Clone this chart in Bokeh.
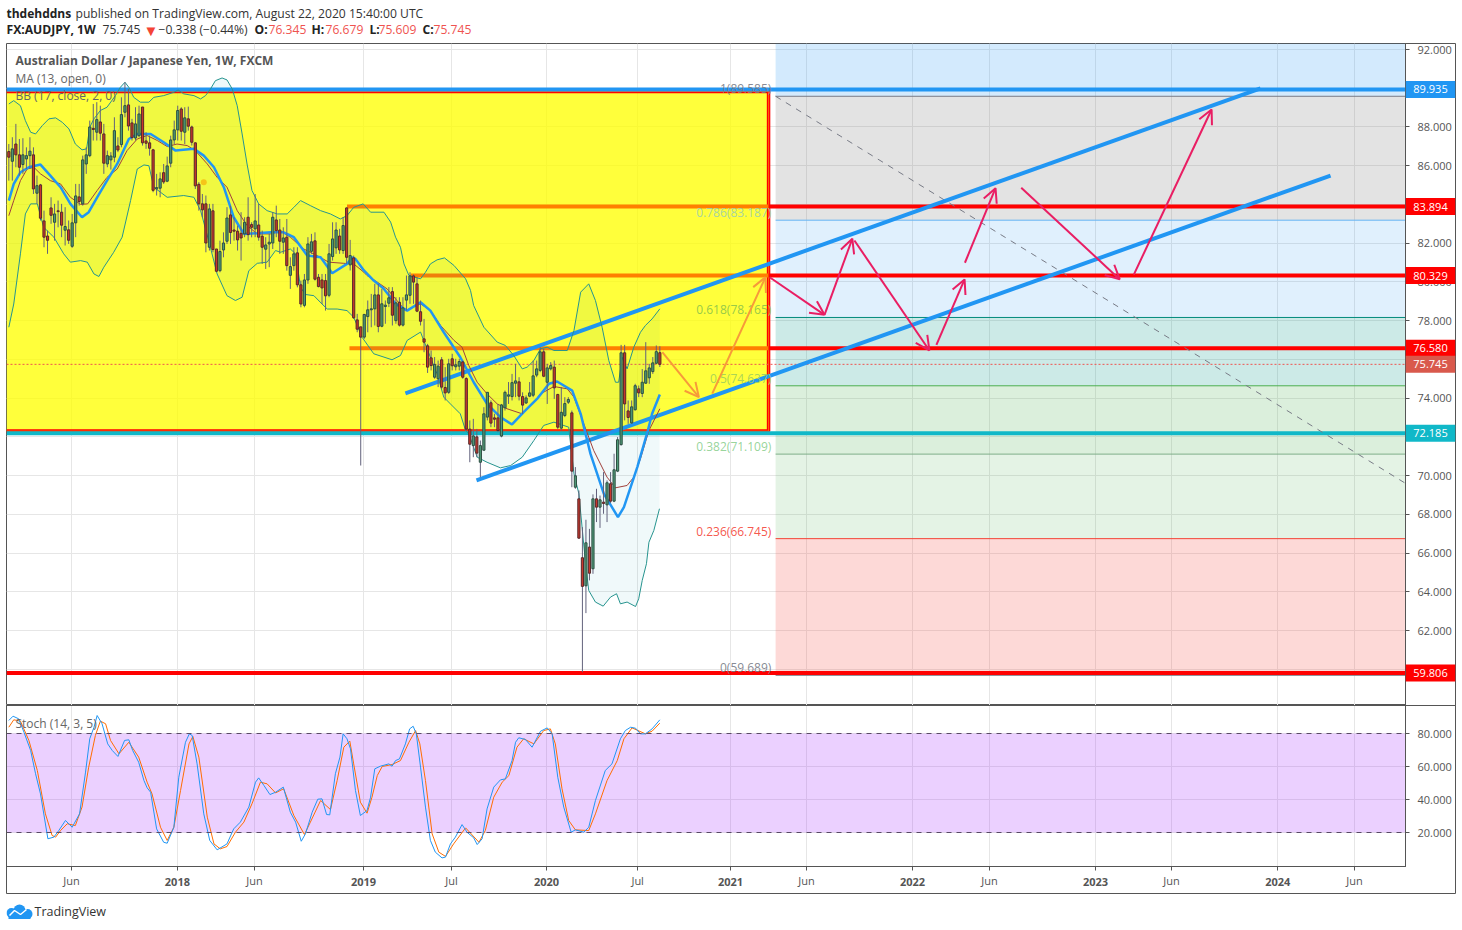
from bokeh.core.properties import value
from bokeh.embed import file_html
from bokeh.resources import INLINE
from bokeh.plotting import figure
from bokeh.layouts import column
from bokeh.models import (Arrow, ColumnDataSource, FixedTicker, Label,
                          NumeralTickFormatter, OpenHead, Range1d, Span)

candle_open = [86.73,86.23,87.12,86.56,86.06,86.35,86.52,86.56,84.58,85.01,
83.15,82.37,83.82,83.08,83.67,83.6,82.67,82.69,81.84,83.05,
84.39,84.03,86.09,86.52,87.93,87.73,88.26,87.64,86.09,86.3,
86.44,87.02,87.09,88.76,89.14,88.21,87.43,87.55,89.03,87.28,
87.18,86.82,84.8,84.84,85.64,85.2,86.13,87.33,87.85,88.93,
87.73,88.42,88.0,87.18,85.04,84.03,84.03,81.79,83.67,81.7,
80.58,81.65,82.1,83.46,82.68,82.62,82.51,82.48,83.34,82.96,
82.74,82.94,82.36,81.69,81.96,82.01,83.2,82.68,82.05,82.31,
80.34,80.84,81.5,79.85,78.79,80.1,81.58,82.12,80.24,80.1,
80.07,79.31,81.31,81.76,82.37,81.62,83.82,80.88,81.24,78.04,
77.68,77.15,78.21,78.56,78.61,79.33,77.71,78.73,78.9,79.5,
78.0,78.95,77.77,79.06,79.31,80.31,79.9,78.46,77.06,76.7,
76.08,75.08,75.0,75.98,74.55,74.3,76.03,75.62,75.65,75.87,
75.01,72.4,71.55,72.0,70.69,71.31,73.02,73.76,72.98,72.98,
72.04,73.5,74.1,74.08,74.77,74.84,74.08,73.75,74.1,74.15,
75.19,75.43,76.39,74.82,75.51,75.6,74.19,72.45,73.1,73.79,
73.24,69.4,68.8,65.76,64.31,66.31,65.19,68.8,68.37,68.63,
68.49,69.58,68.68,70.23,71.6,76.34,73.34,72.72,73.4,74.48,
74.24,74.77,75.05,75.37,75.8,76.345]
candle_high = [87.12,87.47,88.16,87.38,87.42,86.95,87.47,86.95,85.49,85.06,
83.68,82.65,84.37,84.03,84.2,84.03,83.86,83.17,83.51,85.06,
85.06,86.52,86.95,88.33,89.19,89.28,89.1,88.16,86.78,86.7,
88.5,87.47,89.53,90.31,89.96,88.42,89.02,89.1,89.03,87.73,
87.55,86.87,85.58,85.66,86.09,86.47,87.55,88.33,89.1,89.02,
89.02,89.05,88.07,87.21,85.15,84.54,84.46,84.03,84.03,81.7,
82.13,82.56,83.86,83.94,83.34,82.91,83.6,83.34,84.37,83.08,
84.54,84.03,82.65,82.31,82.48,83.6,83.94,83.25,82.82,83.25,
81.27,81.79,81.79,80.07,80.41,82.31,82.48,82.56,80.41,80.41,
80.41,81.96,83.08,83.08,82.74,83.34,83.85,82.17,81.36,78.35,
77.68,78.35,79.04,79.38,79.9,79.9,79.64,79.04,79.73,79.73,
79.21,79.21,79.21,80.33,80.5,80.38,80.24,79.04,78.09,76.8,
76.46,76.12,75.94,76.12,75.6,76.03,76.29,76.03,76.03,75.94,
75.08,72.85,72.93,72.41,71.81,73.53,74.3,73.88,73.19,73.7,
73.7,74.39,74.83,75.25,75.77,75.08,74.3,74.14,74.83,75.94,
75.94,76.63,76.55,75.77,75.86,75.94,74.22,74.57,74.05,74.05,
73.36,70.44,69.23,67.34,67.72,67.25,69.03,69.32,68.97,70.18,
69.75,70.18,71.13,71.99,76.75,76.75,73.88,73.88,74.74,74.65,
75.5,76.89,75.77,76.12,76.72,76.679]
candle_low = [85.23,85.23,85.92,85.49,85.58,85.83,85.83,84.54,84.03,83.17,
81.79,81.45,83.0,82.13,82.82,82.31,81.88,81.96,81.76,82.31,
83.94,83.94,85.58,86.44,87.3,87.3,87.3,85.58,85.92,85.8,
86.18,86.7,86.95,88.5,87.81,87.3,87.3,87.47,87.04,86.87,
86.52,84.63,84.46,84.37,85.06,85.15,85.92,87.12,87.3,87.3,
87.12,87.81,87.04,84.8,83.68,83.34,81.53,81.62,81.53,80.5,
80.5,81.27,81.96,81.96,82.13,81.62,81.1,82.31,82.13,82.3,
82.31,82.13,80.93,80.67,80.76,81.7,82.31,81.45,81.45,80.58,
79.64,80.58,79.72,78.69,78.69,79.9,81.45,80.07,79.72,78.86,
78.52,79.21,81.1,81.45,81.45,81.45,80.93,80.59,78.09,77.4,
70.52,77.06,77.4,77.66,77.75,77.4,77.66,77.84,78.7,77.75,
77.84,77.7,77.7,78.52,78.87,78.87,78.44,77.75,76.37,75.3,
75.43,75.0,74.57,74.48,73.88,74.22,75.43,75.43,75.43,75.0,
72.33,70.69,70.95,70.95,69.92,71.3,72.85,72.5,72.5,72.24,
71.98,73.36,73.7,73.88,74.05,73.88,73.19,73.7,74.05,74.05,
75.08,75.34,75.08,73.7,75.43,73.96,72.41,72.33,73.02,73.7,
69.4,69.32,66.74,59.85,62.9,64.59,64.93,67.6,67.3,68.03,
67.6,68.58,68.63,70.18,71.55,72.85,72.67,72.67,73.36,74.05,
74.05,74.74,74.74,75.25,75.77,75.609]
candle_close = [86.44,86.87,86.56,85.92,86.56,86.52,86.75,84.8,84.97,83.29,
82.31,82.15,83.44,83.51,83.63,82.93,82.86,82.15,83.05,84.44,
84.15,86.3,86.56,88.0,87.87,88.38,87.68,86.13,86.52,86.5,
87.81,86.81,88.64,89.1,88.05,87.45,88.16,88.67,87.18,87.16,
86.9,84.73,84.87,85.32,85.16,85.99,87.33,87.85,88.85,87.78,
88.47,88.04,87.21,84.96,84.03,83.72,82.01,83.77,81.67,80.55,
81.57,82.01,83.3,82.55,82.62,82.17,82.27,83.08,82.44,82.82,
83.15,82.31,81.79,81.91,82.05,83.34,82.65,82.1,82.27,80.84,
80.79,81.45,79.85,78.86,80.1,81.96,82.07,80.14,79.76,79.69,
79.28,81.45,82.22,82.68,81.65,82.91,81.27,81.36,78.15,77.56,
77.15,78.32,78.56,78.61,79.33,77.7,78.87,78.8,79.18,78.28,
78.92,77.77,78.66,79.33,80.31,79.99,78.49,77.97,76.89,75.6,
75.68,75.74,75.65,74.57,74.27,75.77,75.67,75.72,75.89,75.08,
72.4,71.62,72.05,71.16,71.55,73.19,74.3,72.71,72.91,72.33,
73.65,74.3,74.17,74.8,74.89,74.1,73.64,74.01,74.27,75.15,
75.51,76.39,75.13,75.56,75.68,74.53,72.5,73.27,73.72,73.93,
70.23,69.99,66.77,64.28,66.53,64.96,68.8,68.37,68.75,68.56,
69.63,68.68,70.3,71.85,76.34,73.7,73.0,73.55,74.64,74.27,
74.82,75.41,75.56,75.82,76.4,75.745]

bb_upper_at = [0,1.4,3.3,4.7,6.2,7.6,9.5,11.4,13.3,15.2,17.1,18.9,20.8,22.1,23,24.2,26,27.9,30.3,31.7,33,34.1,35.5,37.4,39.8,41.2,44,46.9,48.1,49.7,52.6,54.5,55.9,57.3,58.7,60.6,62,63.5,64.9,66.3,67.7,69.1,71,73.4,76.3,79.1,81,82.9,85.7,88.6,91.4,94.2,96.1,98,100.7,102.8,106.6,108.5,109.9,111.3,112.3,113.7,117,118.4,119.8,121.7,123.8,126.5,129.8,131.2,132.1,135,138.8,141.1,143.5,145.9,147.3,149.2,151.1,153,154.9,158.7,160.6,162.5,164.8,166.7,168.6,170.5,172.4,173.3,174.3,175.7,177.6,179.5,180.9,182.8,185]
bb_upper = [89.19,89.36,89.1,88.33,87.73,87.64,88.07,88.42,88.47,88.24,87.9,87.12,86.82,86.87,87.99,88.42,88.85,89.02,89.62,90.05,90.31,90.05,89.53,89.28,89.28,89.53,89.62,89.79,89.91,89.71,89.62,89.45,89.62,89.96,90.39,90.53,90.43,89.96,89.1,87.64,86.09,84.72,84.03,83.68,83.51,83.51,83.85,84.2,83.94,83.68,83.51,83.25,83.42,83.85,84.03,83.6,83.6,83.09,82.31,81.79,80.93,80.33,80.16,80.5,80.93,81.14,81.24,80.85,80.16,79.56,78.78,77.66,76.89,76.72,76.2,75.51,75.6,75.94,76.55,76.63,76.46,76.46,77.49,79.47,79.9,79.04,77.66,75.94,74.82,74.82,76.11,75.51,76.63,77.4,77.75,78.09,78.61]
bb_lower_at = [0,1.4,3.3,4.7,6.2,8.1,9.9,12.8,15.6,17.5,20.4,22.3,24.2,25.6,27,29.8,32.2,34.6,36.5,38.4,39.8,41.2,43.1,45,49.7,52.6,54.5,56.8,59.2,62,64.4,66.3,68.2,70.6,73.4,75.8,77.2,80,81.5,82.9,84.3,86.7,89,90.5,93.3,96.1,98,100.4,103.7,108.9,111.3,113.2,117,117.9,121.7,123.6,125.5,128.3,129.8,130.7,133.1,135.9,139.7,142.6,145.9,149.2,152,154.9,159.1,160.6,162,162.9,163.9,164.8,166.7,168.9,171,172.7,173.8,175.7,178.1,179,180,181.2,181.9,183.3,184.9]
bb_lower = [77.66,78.86,81.45,83.51,84.03,84.03,82.82,82.31,81.45,81.02,81.1,81.02,80.41,80.28,80.76,81.53,82.31,84.2,85.83,86.04,86.0,84.89,84.63,84.37,84.46,84.37,83.68,82.13,80.41,79.29,79.04,79.21,80.58,80.96,81.02,81.62,81.53,81.7,81.45,79.72,79.35,79.29,78.86,78.6,78.6,78.52,78.18,77.14,76.29,75.98,76.2,76.98,77.41,76.98,75.25,74.05,73.7,73.19,72.33,72.16,70.95,70.69,70.4,70.52,70.95,71.81,72.59,72.76,72.5,70.09,69.06,67.34,65.45,64.07,63.47,63.26,63.73,63.9,63.38,63.47,63.24,63.64,64.59,65.45,66.56,67.17,68.29]
bb_basis_at = [0,1.4,3.3,5.2,7.1,9,11.8,14.7,17.5,20.4,22.4,25.1,27.9,30.8,33.6,36.5,39.3,42.2,45,47.8,50.7,53,56.4,59.2,62,64.9,67.7,70.6,74.4,77.2,80,83.8,87.6,90.9,95.2,98,100.9,101.8,104.7,107.5,110.3,112.7,117,119.8,122.7,126.5,128.8,130.7,133.1,135.9,138.8,141.6,145.9,148.7,151.1,154.9,158.7,160.6,163.4,166.2,170,172.4,175.7,177.6,179.5,181.9,185]
bb_basis = [83.42,84.2,85.23,85.83,85.92,85.58,85.23,85.06,84.37,84.0,84.03,84.72,85.4,85.83,86.78,87.38,87.56,87.3,86.99,87.12,87.04,86.78,86.09,85.4,84.89,83.68,82.91,82.48,82.48,82.62,82.31,81.7,81.36,81.02,80.96,80.93,80.5,80.33,79.99,79.64,79.04,78.52,78.87,78.52,77.75,76.98,76.63,75.69,74.82,74.22,73.7,73.45,73.19,73.7,74.22,74.6,74.48,74.05,72.67,71.3,69.92,69.37,69.49,69.92,70.87,72.33,73.45]
ma13_at = [0,1.4,3.3,5.7,9,11.8,14.7,17.5,20.8,22.7,25.1,27.9,30.8,34.1,36.5,40.3,44,47.4,52.6,55.4,58.3,61.1,63.9,66.8,70.6,74.4,78.1,81,84.8,88.6,91.9,96.1,97.6,98.5,100.9,103.7,106.6,109.9,113.2,117,119.8,123.6,128.3,132.1,135.9,139.7,143,146.3,150.1,153.5,155.8,160.1,162.5,165.3,169.1,173.1,174.8,178.6,181.6,182.8,185]
ma13 = [84.2,85.06,85.66,85.92,86.06,85.49,84.89,84.03,83.34,83.6,84.37,85.23,86.09,87.38,87.64,87.64,87.21,86.78,86.87,86.52,85.92,84.89,83.34,82.48,82.51,82.56,82.56,82.31,81.36,81.27,80.45,80.93,81.27,81.19,80.59,80.07,79.64,78.87,78.52,78.95,78.52,77.4,76.11,74.82,73.7,73.02,72.64,73.28,73.96,74.74,74.86,74.39,73.19,71.12,69.06,67.86,68.37,70.44,72.33,73.19,74.19]

stoch_k_at = [0,1.2,2.8,4.3,6.2,7.6,9,11.1,12.8,14.2,16.1,18,20.1,21.8,23,24.2,25.1,26.5,28.1,29.4,31,32.9,34.1,35.2,36.9,38.4,39.3,40.3,42,44,45,46.9,48.3,50.2,51.3,52.1,53.5,55.4,57.1,59.2,62,63.9,65.8,68.2,70.1,71,72.5,74.2,75.8,78,80,81.5,83.1,84.3,86.2,87.8,89,90.3,91.2,92.8,94.1,95,96.1,97.1,98.5,99.9,101.8,102.8,104,105.6,108,108.9,109.9,111,112.7,113.9,114.9,115.8,117,118.4,119.8,121.2,123.1,124.1,125.5,126.9,128.8,130.2,132.1,133.1,134.5,135.9,137.8,139.7,141.1,143,144,144.9,146.8,148.7,151.1,153,154.4,156,157.7,159.8,161,163.4,164.8,166.7,169.5,171.4,173.8,175.2,176.7,178.1,179.5,180.9,182.8,185]
stoch_k = [87.9,90.5,88.9,80.8,69.7,55.6,43.4,16.2,17.2,21.2,27.3,23.2,31.3,56.6,76.8,83.8,90.9,85.9,73.7,69.7,66.1,75.8,76.2,69.7,62.6,51.5,47.1,44.4,22.2,14.1,13.5,23.2,53.5,74.7,79.8,78.8,61.6,31.3,15.2,9.5,13.1,22.2,26.3,35.4,50.5,53.1,48.5,43.0,44.4,47.5,32.3,26.3,14.7,19.2,32.3,40.2,40.4,30.9,30.7,55.6,65.7,79.8,76.8,70.7,45.5,30.3,33.3,41.4,58.6,60.2,61.6,60.2,63.6,64.6,73.7,82.8,84.4,79.8,59.6,35.4,15.2,8.1,4.6,5.1,13.1,17.2,24.8,20.2,16.8,12.7,16.2,34.3,47.5,51.9,52.5,63.6,74.7,77.4,76.4,71.7,81.4,83.4,79.8,53.5,35.4,20.2,21.6,20.2,23.2,39.4,57.6,61.6,76.8,81.8,83.8,83.2,79.8,79.8,82.8,88.3]
stoch_d_at = [0,1.4,3.3,5.7,8.1,10.4,12.3,13.3,14.7,16.6,18.9,20.8,22.7,24.6,26,27.5,28.9,31.3,34.1,36.9,39.3,40.7,43.1,45,46.9,48.8,51.2,52.3,54,56.4,58.3,60.1,62,64.4,66.8,69.1,71.5,73.4,75.8,78.1,81,84,85.7,88.6,91.4,93.3,95.2,96.9,98,99.9,101.8,103.2,104.7,106.1,108.9,111.3,113.7,115.6,116.8,118.4,120.3,122.2,124.1,126.4,129.8,133.6,135.4,137.8,140.2,142.1,144.4,146.3,149.2,152,153.9,155.3,157.2,159.1,161,164.8,166.7,170,172.9,174.8,177.1,180.9,182.8,185]
stoch_d = [83.8,88.3,87.5,75.8,57.6,31.3,18.2,17.2,21.2,25.3,24.2,35.4,59.6,78.8,87.5,85.9,75.8,67.7,74.7,65.7,50.5,43.4,23.2,15.2,23.2,45.5,73.7,78.2,65.7,29.3,13.1,10.1,11.5,20.2,26.3,37.4,50.5,49.5,44.0,46.5,30.3,18.8,26.3,39.4,33.9,51.5,71.7,75.4,61.6,38.4,31.7,41.4,54.5,60.0,61.2,63.6,74.7,81.8,73.7,51.5,19.2,8.1,5.5,13.1,22.8,14.1,21.2,41.4,50.5,54.5,71.7,76.8,73.7,81.8,82.8,73.7,46.5,27.3,21.6,21.2,31.3,51.5,63.6,76.8,83.4,79.8,81.4,86.3]

price_ticks = [60,62,64,66,68,70,72,74,76,78,80,82,84,86,88,90,92]
stoch_ticks = [20,40,60,80]
month_ticks = [17.8,69.8,125.8,178.7,226.7,278.7,330.4,382.4]
month_labels = ["Jun","Jun","Jul","Jul","Jun","Jun","Jun","Jun"]
year_ticks = [47.9,100.8,152.8,205.1,256.8,308.8,360.6]
year_labels = ["2018","2019","2020","2021","2022","2023","2024"]

fib_ratio = ["1","0.786","0.618","0.5","0.382","0.236","0"]
fib_price = [89.585,83.187,78.165,74.637,71.109,66.745,59.689]
tag_prices = [89.935,83.894,80.329,76.58,75.745,72.185,59.806]
tag_text = ["89.935","83.894","80.329","76.580","75.745","72.185","59.806"]
level_prices = [83.894,80.329,76.58]
level_start = [96.1,114.2,96.8]
channel_up_at, channel_up = [112.7,355.7], [74.24,89.99]
channel_lo_at, channel_lo = [132.9,375.6], [69.75,85.49]
fib_trend_at, fib_trend = [217.9,396.9], [89.585,69.6]
box_end, box_top, box_bottom = 215.9, 89.83, 72.3
fib_start = 217.9
pink_x0 = [216.2,231.8,240.3,263.6,271.7,287.7,319.7]
pink_y0 = [80.24,78.3,82.14,76.75,80.99,84.86,80.38]
pink_x1 = [231.8,239.7,261.6,271.6,280.4,315.7,341.8]
pink_y1 = [78.3,82.23,76.46,80.13,84.84,80.13,88.9]
orange_x0 = [185.7,199.9]
orange_y0 = [76.37,74.23]
orange_x1 = [196.1,215.0]
orange_y1 = [74.05,80.24]

FONT = "Open Sans"
GRID = "#e6e6e6"
TXT = "#555555"
X0, X1 = -0.66, 396.9
Y_BOTTOM, Y_TOP = 58.13, 92.31
all_ticks = sorted(month_ticks + year_ticks)
def abspos(left, top):
    return {"position": "absolute", "left": f"{left}px", "top": f"{top}px"}

def base(h, yr, bottom):
    f = figure(width=1462, height=h, x_range=Range1d(X0, X1), y_range=Range1d(*yr),
               y_axis_location="right", x_axis_location=None if bottom == 0 else "below",
               output_backend="svg", toolbar_location=None,
               min_border_left=6, min_border_right=57, min_border_top=0, min_border_bottom=bottom)
    f.background_fill_color = "white"
    f.border_fill_color = "white"
    f.outline_line_color = TXT
    f.outline_line_width = 1
    f.xgrid.ticker = FixedTicker(ticks=all_ticks)
    f.xgrid.grid_line_color = GRID
    f.ygrid.grid_line_color = GRID
    f.yaxis.axis_line_color = TXT
    f.yaxis.major_tick_line_color = TXT
    f.yaxis.major_tick_out = 4
    f.yaxis.major_tick_in = 0
    f.yaxis.minor_tick_line_color = None
    f.yaxis.major_label_text_color = TXT
    f.yaxis.major_label_text_font = FONT
    f.yaxis.major_label_text_font_size = "11px"
    f.yaxis.major_label_standoff = 8
    f.yaxis.formatter = NumeralTickFormatter(format="0.000")
    return f

def overlay(w, h, left, top, xr, yr, **kw):
    f = figure(width=w, height=h, x_range=xr, y_range=yr, x_axis_location=None,
               y_axis_location=None, output_backend="svg", toolbar_location=None,
               min_border_left=kw.get("ml", 0), min_border_right=kw.get("mr", 0),
               min_border_top=0, min_border_bottom=kw.get("mb", 0),
               styles=abspos(left, top))
    f.grid.visible = False
    f.background_fill_alpha = 0
    f.border_fill_alpha = 0
    f.outline_line_color = None
    return f

# ---------------- header strip
head = figure(width=1462, height=43, x_range=Range1d(6, 1405), y_range=Range1d(43, 0),
              x_axis_location=None, y_axis_location=None, output_backend="svg",
              toolbar_location=None, min_border_left=6, min_border_right=57,
              min_border_top=0, min_border_bottom=0)
head.grid.visible = False
head.outline_line_color = None
head.border_fill_color = "white"

def htxt(px, py, s, color="#333333", style="normal", size="12.14px"):
    head.add_layout(Label(x=px, y=py, text=s, text_color=color, text_font=FONT, text_font_size=size,
                          text_font_style=style, text_baseline="middle", text_align="left"))
htxt(6, 13, "thdehddns", "#222222", "bold", "12px")
htxt(75, 13, "published on TradingView.com, August 22, 2020 15:40:00 UTC")
htxt(6, 29, "FX:AUDJPY, 1W", "#222222", "bold")
htxt(102, 29, "75.745")
htxt(143, 29, "▼", "#f44336", "normal", "15px")
htxt(158, 29, "−0.338 (−0.44%)")
for px, t in [(254,"O:"),(311,"H:"),(369,"L:"),(422,"C:")]:
    htxt(px, 29, t, "#222222", "bold")
for px, t in [(268,"76.345"),(325,"76.679"),(378,"75.609"),(433,"75.745")]:
    htxt(px, 29, t, "#ef5350")

# ---------------- price pane
p = base(662, (Y_BOTTOM, Y_TOP), 0)
p.yaxis.ticker = FixedTicker(ticks=price_ticks)

def txt(f, sx, sy, s, color=TXT, size="12px", style="normal", fb=705):
    f.add_layout(Label(x=sx - 6, y=fb - sy, x_units="screen", y_units="screen", text=s,
                       text_color=color, text_font=FONT, text_font_size=size,
                       text_font_style=style, text_baseline="middle", text_align="left"))

zones = [(Y_TOP,fib_price[0],"#2196f3",.2),(fib_price[0],fib_price[1],"#808080",.22),
         (fib_price[1],fib_price[2],"#2196f3",.14),(fib_price[2],fib_price[3],"#009688",.2),
         (fib_price[3],fib_price[4],"#4caf50",.2),(fib_price[4],fib_price[5],"#4caf50",.15),
         (fib_price[5],fib_price[6],"#f44336",.2)]
for t, b, c, a in zones:
    p.quad(left=fib_start, right=X1, top=t, bottom=b, fill_color=c, fill_alpha=a, line_color=None)
fib_line = ["#787b86","#64b5f6","#00897b","#4caf50","#7fb08a","#f44336","#787b86"]
fib_text = ["#787b86","#9ccfb0","#8bc34a","#9fce5a","#8bcf8e","#f44336","#787b86"]
for v, lc in zip(fib_price, fib_line):
    p.line([fib_start, X1], [v, v], line_color=lc, line_width=1)

# yellow box
p.quad(left=X0, right=box_end, top=box_top, bottom=box_bottom, fill_color="#ffff00",
       fill_alpha=.77, line_color=None)
for r, t, c in zip(fib_ratio, fib_price, fib_text):
    p.add_layout(Label(x=216.7, y=t, text=f"{r}({t:.3f})",
                       text_align="right", text_baseline="bottom", y_offset=-1,
                       text_font=FONT, text_font_size="12px", text_alpha=.9, text_color=c))
p.line([X0, box_end, box_end, X0], [box_top, box_top, box_bottom, box_bottom],
       line_color="#ff0000", line_width=3.5)
p.line([X0, box_end, box_end, X0], [box_top, box_top, box_bottom, box_bottom],
       line_color="#ff8000", line_width=.8)

# horizontal levels
p.line([X0, X1], [tag_prices[0]]*2, line_color="#2196f3", line_width=4)
for v, st in zip(level_prices, level_start):
    p.line([st, box_end], [v, v], line_color="#ff7f00", line_width=4)
    p.line([box_end, X1], [v, v], line_color="#ff0000", line_width=4)
p.line([X0, X1], [tag_prices[5]]*2, line_color="#10b8c8", line_width=4)
p.line([X0, X1], [tag_prices[6]]*2, line_color="#ff0000", line_width=4)
p.line([X0, X1], [tag_prices[4]]*2, line_color="#ef5350", line_width=1, line_dash="2 2")

# dashed fib trend
p.line(fib_trend_at, fib_trend, line_color="#787b86", line_width=1, line_dash="6 6")

# channels
p.line(channel_up_at, channel_up, line_color="#2196f3", line_width=4)
p.line(channel_lo_at, channel_lo, line_color="#2196f3", line_width=4)

# arrows
for x0, y0, x1, y1 in zip(orange_x0, orange_y0, orange_x1, orange_y1):
    p.add_layout(Arrow(end=OpenHead(line_color="#f79a3a", line_width=2, size=14),
                       x_start=x0, y_start=y0, x_end=x1, y_end=y1,
                       line_color="#f79a3a", line_width=2))
for x0, y0, x1, y1 in zip(pink_x0, pink_y0, pink_x1, pink_y1):
    p.add_layout(Arrow(end=OpenHead(line_color="#e91e63", line_width=2, size=14),
                       x_start=x0, y_start=y0, x_end=x1, y_end=y1,
                       line_color="#e91e63", line_width=2))

# Bollinger fill: upper and lower edge joined into one outline
p.patch(bb_upper_at + bb_lower_at[::-1], bb_upper + bb_lower[::-1],
        fill_color="#0097a7", fill_alpha=.06, line_color=None)
p.line(bb_upper_at, bb_upper, line_color="#26948f", line_width=1)
p.line(bb_lower_at, bb_lower, line_color="#26948f", line_width=1)
p.line(bb_basis_at, bb_basis, line_color="#a0413c", line_width=1)
p.line(ma13_at, ma13, line_color="#2196f3", line_width=2.5)
p.scatter([55.4], [85.15], size=6, fill_color="#f5c518", line_color=None)

# candles
idx = list(range(len(candle_open)))
body = ColumnDataSource(dict(
    x=idx, top=[max(a, b) for a, b in zip(candle_open, candle_close)],
    bottom=[min(a, b) for a, b in zip(candle_open, candle_close)],
    high=candle_high, low=candle_low,
    fill=["#4f9b78" if c >= o else "#c8372d" for o, c in zip(candle_open, candle_close)],
    edge=["#2d4f42" if c >= o else "#56292a" for o, c in zip(candle_open, candle_close)]))
p.segment("x", "low", "x", "high", source=body, line_color="#62627c", line_width=1)
p.vbar("x", width=.62, top="top", bottom="bottom", source=body,
       fill_color="fill", line_color="edge", line_width=1)

txt(p, 15, 60, "Australian Dollar / Japanese Yen, 1W, FXCM", "#555555", "12px", "bold")
txt(p, 15, 78, "MA (13, open, 0)", "#666666")
txt(p, 15, 95, "BB (17, close, 2, 0)", "#666666")

# ---------------- stochastic pane
s = base(188, (-0.6, 96.97), 27)
s.yaxis.ticker = FixedTicker(ticks=stoch_ticks)
s.xaxis.ticker = FixedTicker(ticks=month_ticks)
s.xaxis.major_label_overrides = dict(zip(month_ticks, month_labels))
def style_x(ax):
    ax.axis_line_color = TXT
    ax.major_tick_line_color = TXT
    ax.major_tick_out = 4
    ax.major_tick_in = 0
    ax.minor_tick_line_color = None
    ax.major_label_text_color = TXT
    ax.major_label_text_font = FONT
    ax.major_label_text_font_size = "11px"
    ax.major_label_standoff = 2
style_x(s.xaxis)
s.quad(left=X0, right=X1, top=stoch_ticks[3], bottom=stoch_ticks[0], fill_color="#9915ff",
       fill_alpha=.2, line_color=None)
for v in (stoch_ticks[0], stoch_ticks[3]):
    s.add_layout(Span(location=v, dimension="width", line_color="#5a4a66", line_width=1, line_dash="5 5"))
s.line(stoch_d_at, stoch_d, line_color="#ff6d00", line_width=1)
s.line(stoch_k_at, stoch_k, line_color="#2196f3", line_width=1)
s.add_layout(Label(x=9, y=143, x_units="screen", y_units="screen", text="Stoch (14, 3, 5)",
                   text_color="#666666", text_font=FONT, text_font_size="12px",
                   text_baseline="middle"))

# ---------------- footer logo
f = figure(width=1462, height=37, x_range=Range1d(6, 1405), y_range=Range1d(930, 893),
           x_axis_location=None, y_axis_location=None, output_backend="svg",
           toolbar_location=None, min_border_left=6, min_border_right=57,
           min_border_top=0, min_border_bottom=0)
f.grid.visible = False
f.outline_line_color = None
f.border_fill_color = "white"
f.circle([11, 19, 27], [912.5, 910, 913.5], radius=[5, 6, 5], fill_color="#2196f3", line_color=None)
f.quad(left=[8], right=[30], top=[912], bottom=[918.5], fill_color="#2196f3", line_color=None)
f.line([9, 14, 20, 26], [915, 910, 914, 909], line_color="white", line_width=1.5)
f.add_layout(Label(x=34, y=911, text="TradingView", text_color="#333333", text_font=FONT,
                   text_font_size="12.5px", text_baseline="middle"))

page = column(head, p, s, f, spacing=0, styles=abspos(0, 0))

# ---------------- price tags and axis-band frame, laid over the right axis
tags = overlay(51, 663, 1405, 43, Range1d(0, 1), p.y_range, mr=1, mb=1)
tags.outline_line_color = TXT
tag_color = ["#2196f3","#ff0000","#ff0000","#ff0000","#d9594c","#10b8c8","#ff0000"]
tags.quad(left=0, right=1, top=[v + .44 for v in tag_prices], bottom=[v - .44 for v in tag_prices],
          fill_color=tag_color, line_color=None)
tags.text(x=.5, y=tag_prices, text=tag_text, text_color="white", text_align="center",
          text_baseline="middle", text_font=value(FONT), text_font_size="11px")

# ---------------- frame round the lower pane and time axis
band = figure(width=1456, height=189, x_range=Range1d(0, 1), y_range=Range1d(0, 1),
              x_axis_location=None, y_axis_location=None, output_backend="svg",
              toolbar_location=None, min_border_left=6, min_border_right=1,
              min_border_top=0, min_border_bottom=1, styles=abspos(0, 705))
band.grid.visible = False
band.background_fill_alpha = 0
band.border_fill_alpha = 0
band.outline_line_color = TXT

# ---------------- bold year labels on the time axis
years = figure(width=1462, height=28, x_range=s.x_range, y_range=Range1d(0, 1),
               x_axis_location="below", y_axis_location=None, output_backend="svg",
               toolbar_location=None, min_border_left=6, min_border_right=57,
               min_border_top=0, min_border_bottom=27, styles=abspos(0, 865))
years.grid.visible = False
years.background_fill_alpha = 0
years.border_fill_alpha = 0
years.outline_line_color = None
years.xaxis.ticker = FixedTicker(ticks=year_ticks)
years.xaxis.major_label_overrides = dict(zip(year_ticks, year_labels))
style_x(years.xaxis)
years.xaxis.major_label_text_font_style = "bold"
years.xaxis.major_label_standoff = 7

open("out.html", "w").write(file_html([page, tags, band, years], INLINE))
